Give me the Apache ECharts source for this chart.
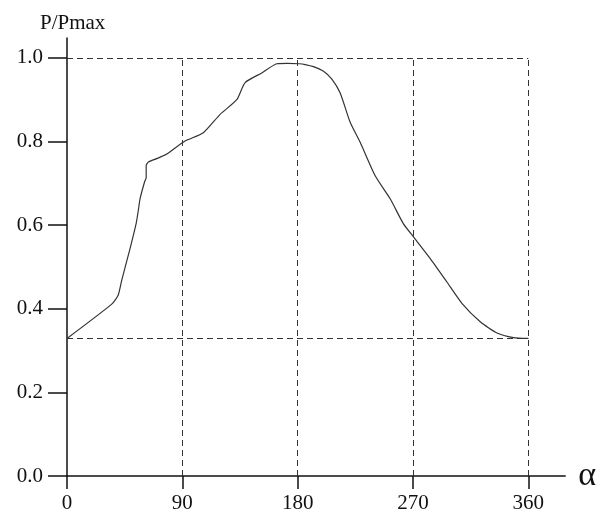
<!DOCTYPE html>
<html>
<head>
<meta charset="utf-8">
<script src="https://cdn.jsdelivr.net/npm/echarts@6/dist/echarts.min.js"></script>
<style>
  html, body { margin: 0; padding: 0; background: #fff; }
  #chart { width: 599px; height: 514px; }
</style>
</head>
<body>
<div id="chart"></div>
<script>
// angle (deg) vs relative power
const alpha = [0, 34.9, 40, 42.7, 49.2, 53.9, 55.7, 57, 60.4, 61.8, 61.8, 63.5, 70, 77.9, 92.1, 106.4, 119.5, 132.5, 139, 152, 163.8, 172, 181.4, 185.9, 192.3, 200.2, 206.7, 213.2, 221, 228.8, 240.5, 252.2, 262.6, 270.4, 283.5, 296.5, 308.2, 322.5, 335.6, 348.5, 360];
const power = [0.329, 0.411, 0.433, 0.468, 0.544, 0.603, 0.636, 0.663, 0.702, 0.714, 0.743, 0.751, 0.759, 0.770, 0.801, 0.821, 0.865, 0.900, 0.941, 0.964, 0.986, 0.987, 0.986, 0.984, 0.979, 0.968, 0.949, 0.916, 0.846, 0.798, 0.718, 0.663, 0.603, 0.572, 0.520, 0.464, 0.413, 0.369, 0.342, 0.331, 0.329];

const xTicks = [0, 90, 180, 270, 360];
const yTicks = [0, 0.2, 0.4, 0.6, 0.8, 1.0];
const refX = [90, 180, 270, 360];
const refY = [1.0, 0.329];

const serif = '"Liberation Serif", "Times New Roman", serif';

const refLines = [
  ...refX.map(x => [{ coord: [x, 0] }, { coord: [x, 1.0] }]),
  ...refY.map(y => [{ coord: [0, y] }, { coord: [360, y] }]),
];

const chart = echarts.init(document.getElementById('chart'));
chart.setOption({
  animation: false,
  backgroundColor: '#fff',
  title: {
    text: 'P/Pmax',
    left: 35,
    top: 8,
    textStyle: { fontFamily: serif, fontSize: 21, fontWeight: 'normal', color: '#111' },
  },
  grid: { left: 67, top: 38, right: 33, bottom: 36 },
  xAxis: {
    type: 'value',
    min: 0,
    max: 388.8,
    name: 'α',
    nameLocation: 'end',
    nameGap: 13,
    nameTextStyle: { fontFamily: serif, fontSize: 34, color: '#111', verticalAlign: 'middle', padding: [0, 0, 6, 0] },
    axisLine: { lineStyle: { color: '#111', width: 1.5 } },
    axisTick: { show: true, customValues: xTicks, length: 13, lineStyle: { color: '#111', width: 1.5 } },
    axisLabel: { customValues: xTicks, margin: 17, fontFamily: serif, fontSize: 21, color: '#111' },
    splitLine: { show: false },
  },
  yAxis: {
    type: 'value',
    min: 0,
    max: 1.0476,
    axisLine: { show: true, lineStyle: { color: '#111', width: 1.5 } },
    axisTick: { show: true, customValues: yTicks, length: 19, lineStyle: { color: '#111', width: 1.5 } },
    axisLabel: {
      customValues: yTicks,
      margin: 24,
      fontFamily: serif,
      fontSize: 21,
      color: '#111',
      formatter: v => v.toFixed(1),
    },
    splitLine: { show: false },
  },
  series: [
    {
      type: 'line',
      data: alpha.map((a, i) => [a, power[i]]),
      smooth: 0.2,
      showSymbol: false,
      lineStyle: { color: '#333', width: 1.2 },
      markLine: {
        silent: true,
        symbol: 'none',
        label: { show: false },
        lineStyle: { color: '#333', width: 1, type: [6, 4] },
        data: refLines,
      },
    },
  ],
});
</script>
</body>
</html>
